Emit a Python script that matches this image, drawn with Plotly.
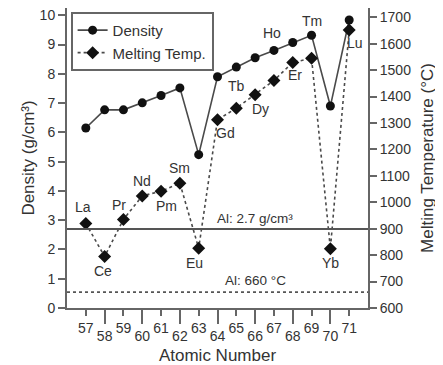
import plotly.graph_objects as go

atomic = [57, 58, 59, 60, 61, 62, 63, 64, 65, 66, 67, 68, 69, 70, 71]
elements = ["La", "Ce", "Pr", "Nd", "Pm", "Sm", "Eu", "Gd", "Tb", "Dy", "Ho", "Er", "Tm", "Yb", "Lu"]
density = [6.15, 6.77, 6.77, 7.01, 7.26, 7.52, 5.24, 7.90, 8.23, 8.55, 8.80, 9.07, 9.32, 6.90, 9.84]
melting = [920, 795, 935, 1024, 1042, 1072, 826, 1312, 1356, 1407, 1461, 1529, 1545, 824, 1652]
al_density = 2.7
al_melting = 660

odd_ticks = [57, 59, 61, 63, 65, 67, 69, 71]
even_ticks = [58, 60, 62, 64, 66, 68, 70]

# label placement: (series, xshift, yshift)
label_pos = {
    "La": ("m", -3, 16), "Ce": ("m", -2, -15), "Pr": ("m", -4, 14), "Nd": ("m", 0, 15),
    "Pm": ("m", 5, -15), "Sm": ("m", 0, 15), "Eu": ("m", -4, -15), "Gd": ("m", 8, -13),
    "Tb": ("d", 0, -19), "Dy": ("m", 5, -14), "Ho": ("d", -2, 17), "Er": ("m", 2, -13),
    "Tm": ("d", 0, 14), "Yb": ("m", 0, -14), "Lu": ("m", 6, -13),
}

FONT = "Liberation Sans, Arial, sans-serif"
AX = "#666666"
LINE = "#4a4a4a"
TXT = "#333333"

fig = go.Figure()
fig.add_trace(go.Scatter(
    x=atomic, y=density, name="Density", mode="lines+markers",
    line=dict(color=LINE, width=1.6),
    marker=dict(symbol="circle", size=9, color="#111111"),
    xaxis="x", yaxis="y"))
fig.add_trace(go.Scatter(
    x=atomic, y=melting, name="Melting Temp.", mode="lines+markers",
    line=dict(color=LINE, width=1.6, dash="dot"),
    marker=dict(symbol="diamond", size=10, color="#111111"),
    xaxis="x", yaxis="y2"))
# invisible trace to carry the even tick axis
fig.add_trace(go.Scatter(x=[atomic[0]], y=[density[0]], mode="markers", opacity=0,
                         showlegend=False, hoverinfo="skip", xaxis="x2", yaxis="y"))

# Al reference lines
fig.add_shape(type="line", xref="paper", x0=0, x1=1, yref="y", y0=al_density, y1=al_density,
              line=dict(color="#555555", width=2))
fig.add_shape(type="line", xref="paper", x0=0, x1=1, yref="y2", y0=al_melting, y1=al_melting,
              line=dict(color="#555555", width=1.6, dash="dot"))

annotations = [
    dict(x=66, y=al_density, xref="x", yref="y", text="Al: 2.7 g/cm³", showarrow=False,
         yshift=10, font=dict(size=13.5, color=TXT, family=FONT)),
    dict(x=66, y=al_melting, xref="x", yref="y2", text="Al: 660 °C", showarrow=False,
         yshift=12, font=dict(size=13.5, color=TXT, family=FONT)),
]
for i, el in enumerate(elements):
    s, dx, dy = label_pos[el]
    yv = density[i] if s == "d" else melting[i]
    annotations.append(dict(
        x=atomic[i], y=yv, xref="x", yref="y" if s == "d" else "y2", text=el,
        showarrow=False, xshift=dx, yshift=dy,
        font=dict(size=14, color=TXT, family=FONT)))

# page body has an 8px margin, so the figure is sized/margined to compensate
fig.update_layout(
    width=435, height=357,
    margin=dict(l=59, r=75, t=0, b=57, autoexpand=False),
    paper_bgcolor="white", plot_bgcolor="white",
    font=dict(family=FONT, size=13, color=TXT),
    showlegend=True,
    legend=dict(x=0.012, y=0.987, xanchor="left", yanchor="top",
                bordercolor="#666666", borderwidth=2, bgcolor="white",
                font=dict(size=15, color=TXT), tracegroupgap=0,
                itemwidth=30),
    xaxis=dict(range=[56, 72], tickvals=odd_ticks, ticktext=[str(v) for v in odd_ticks],
               ticks="outside", ticklen=6, tickwidth=1.5, tickcolor=AX,
               showline=True, linecolor=AX, linewidth=2, mirror=True,
               showgrid=False, zeroline=False, ticklabeloverflow="allow",
               tickfont=dict(size=14, color=TXT),
               title=dict(text="Atomic Number", font=dict(size=17, color=TXT), standoff=16)),
    xaxis2=dict(range=[56, 72], overlaying="x", anchor="y", side="bottom",
                tickvals=even_ticks, ticktext=[str(v) for v in even_ticks],
                ticks="outside", ticklen=15, tickwidth=1.5, tickcolor=AX,
                showline=False, showgrid=False, zeroline=False, ticklabeloverflow="allow",
                tickfont=dict(size=14, color=TXT)),
    yaxis=dict(range=[0, 10.25], tickvals=list(range(0, 11)),
               ticks="outside", ticklen=7, tickwidth=1.5, tickcolor=AX,
               showline=True, linecolor=AX, linewidth=2, showgrid=False, zeroline=False,
               ticklabeloverflow="allow",
               tickfont=dict(size=14, color=TXT),
               title=dict(text="Density (g/cm³)", font=dict(size=17, color=TXT), standoff=1)),
    yaxis2=dict(range=[600, 1735], tickvals=list(range(600, 1701, 100)),
                overlaying="y", side="right", anchor="x",
                ticks="outside", ticklen=7, tickwidth=1.5, tickcolor=AX,
                showline=True, linecolor=AX, linewidth=2, showgrid=False, zeroline=False,
                ticklabeloverflow="allow",
                tickfont=dict(size=14, color=TXT),
                title=dict(text="Melting Temperature (°C)", font=dict(size=17, color=TXT), standoff=11)),
    annotations=annotations,
)

fig.write_html("out.html")
